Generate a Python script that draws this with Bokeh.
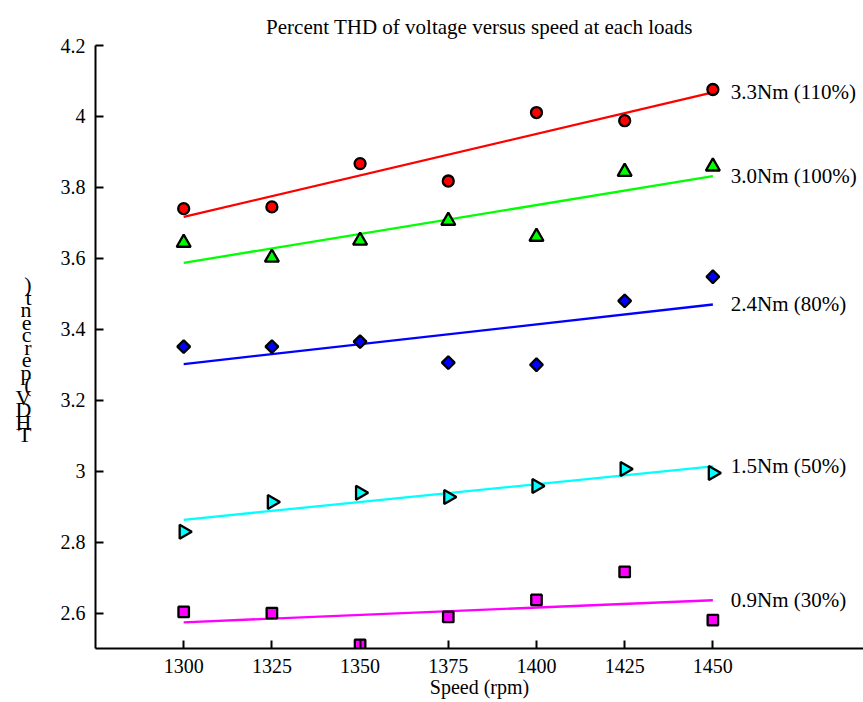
import numpy as np
from bokeh.plotting import figure
from bokeh.models import Range1d, FixedTicker, Label
from bokeh.embed import file_html
from bokeh.resources import INLINE

# ---- data ----
speed = [1300, 1325, 1350, 1375, 1400, 1425, 1450]
thd_33 = [3.740, 3.745, 3.867, 3.818, 4.011, 3.988, 4.076]
thd_30 = [3.644, 3.602, 3.650, 3.706, 3.661, 3.844, 3.859]
thd_24 = [3.351, 3.351, 3.365, 3.306, 3.300, 3.480, 3.548]
thd_15 = [2.829, 2.913, 2.939, 2.927, 2.958, 3.006, 2.995]
thd_09 = [2.603, 2.600, 2.510, 2.589, 2.637, 2.716, 2.580]
load_labels = ["3.3Nm (110%)", "3.0Nm (100%)", "2.4Nm (80%)", "1.5Nm (50%)", "0.9Nm (30%)"]
x_ticks = [1300, 1325, 1350, 1375, 1400, 1425, 1450]
y_ticks = [2.6, 2.8, 3.0, 3.2, 3.4, 3.6, 3.8, 4.0, 4.2]
y_tick_labels = ["2.6", "2.8", "3", "3.2", "3.4", "3.6", "3.8", "4", "4.2"]
title_text = "Percent THD of voltage versus speed at each loads"
x_label = "Speed (rpm)"
# y label "THDV (percent)" drawn as stacked upright characters, top to bottom
y_label_stack = [" ", " ", ")", "t", "n", "e", "c", "r", "e", "p", "(", "V", "D", "H", "T"]

FONT = "Liberation Serif"

p = figure(width=863, height=702, output_backend="svg", toolbar_location=None,
           x_range=Range1d(1275, 1492.7), y_range=Range1d(2.5, 4.2),
           min_border_left=95, min_border_right=0, min_border_top=45,
           min_border_bottom=54)
p.outline_line_color = None
p.xgrid.visible = False
p.ygrid.visible = False
p.background_fill_color = "white"
p.border_fill_color = "white"

p.title.text = title_text
p.title.align = "center"
p.title.text_font = FONT
p.title.text_font_size = "21px"
p.title.text_font_style = "normal"
p.title.text_color = "black"
p.title.standoff = 14

for ax in (p.xaxis[0], p.yaxis[0]):
    ax.axis_line_width = 2
    ax.axis_line_color = "black"
    ax.major_tick_line_width = 2
    ax.major_tick_line_color = "black"
    ax.major_tick_in = 8
    ax.major_tick_out = 0
    ax.minor_tick_line_color = None
    ax.major_label_text_font = FONT
    ax.major_label_text_font_size = "20px"
    ax.major_label_text_color = "black"

p.xaxis.ticker = FixedTicker(ticks=x_ticks)
p.yaxis.ticker = FixedTicker(ticks=y_ticks)
p.yaxis.major_label_overrides = {t: s for t, s in zip(y_ticks, y_tick_labels)}
p.xaxis.major_label_standoff = 10
p.yaxis.major_label_standoff = 10
p.xaxis.axis_label = x_label
p.xaxis.axis_label_text_font = FONT
p.xaxis.axis_label_text_font_size = "20px"
p.xaxis.axis_label_text_font_style = "normal"
p.xaxis.axis_label_text_color = "black"
p.xaxis.axis_label_standoff = 0

p.yaxis.axis_label = "\n".join(y_label_stack)
p.yaxis.axis_label_orientation = "horizontal"
p.yaxis.axis_label_text_font = FONT
p.yaxis.axis_label_text_font_size = "22px"
p.yaxis.axis_label_text_font_style = "normal"
p.yaxis.axis_label_text_color = "black"
p.yaxis.axis_label_text_line_height = 0.5
p.yaxis.axis_label_standoff = 26

series = [
    (thd_33, "#ff0000", "circle", 11, 0.0),
    (thd_30, "#00ff00", "triangle", 14, 0.0),
    (thd_24, "#0000ff", "square", 9, np.pi / 4),
    (thd_15, "#00ffff", "triangle", 14, -np.pi / 2),
    (thd_09, "#ff00ff", "square", 10.5, 0.0),
]

xs = np.array(speed, dtype=float)
for (vals, color, marker, size, ang), lab in zip(series, load_labels):
    coef = np.polyfit(xs, np.array(vals), 1)
    fit = np.polyval(coef, xs)
    p.line([xs[0], xs[-1]], [fit[0], fit[-1]], line_color=color, line_width=2.3)
    p.scatter(speed, vals, marker=marker, size=size, angle=ang,
              fill_color=color, line_color="black", line_width=2.3)
    p.add_layout(Label(x=xs[-1], y=fit[-1], text=lab, x_offset=18, y_offset=0,
                       text_align="left", text_baseline="middle",
                       text_font=FONT, text_font_size="21px", text_color="black"))

open("out.html", "w").write(file_html(p, INLINE))
